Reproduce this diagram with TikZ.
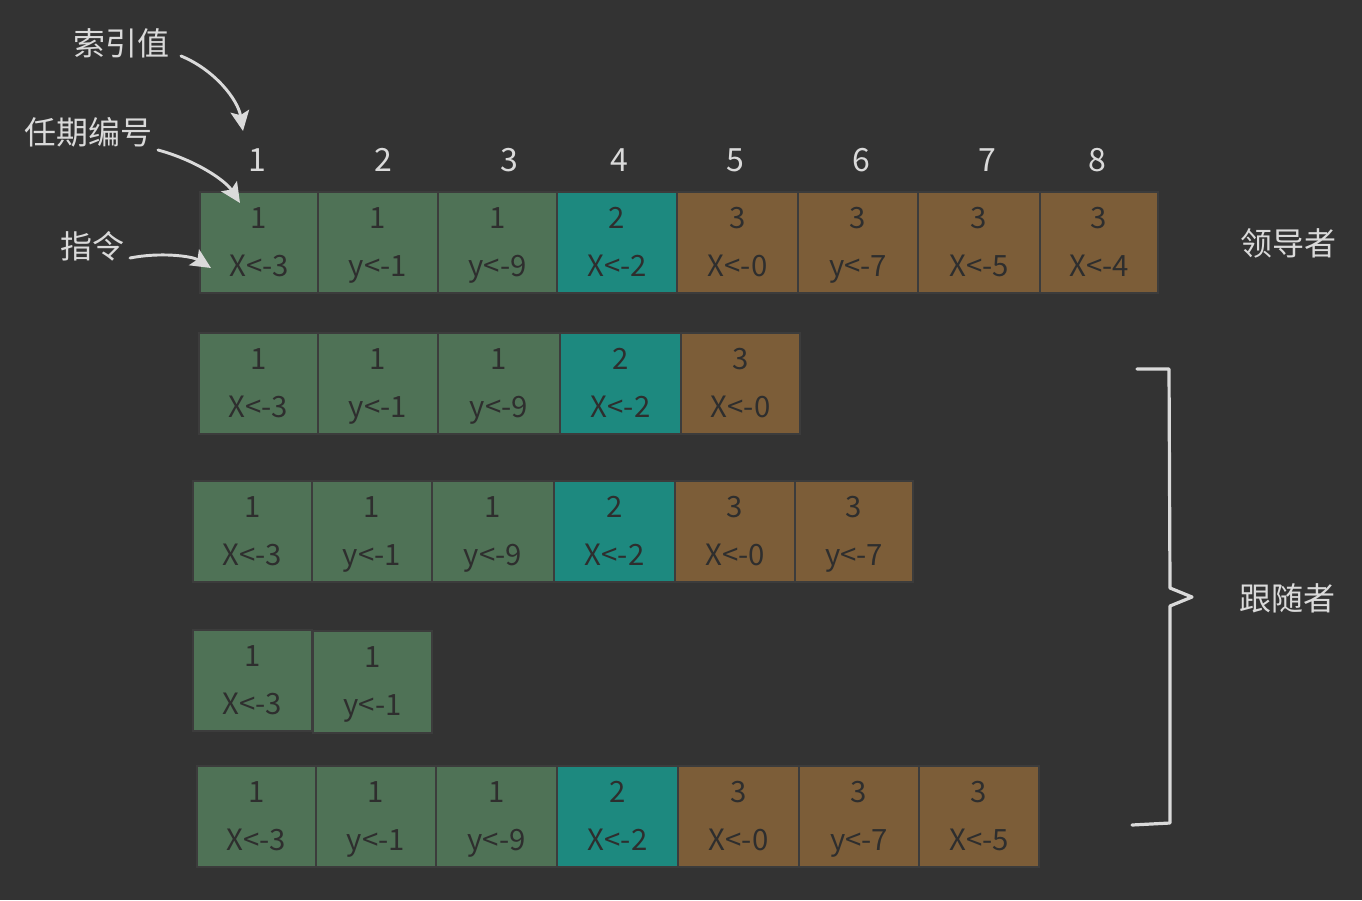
\documentclass[tikz,border=0pt]{standalone}
\usepackage{fontspec}
\setmainfont{Noto Sans CJK SC}
\usetikzlibrary{arrows.meta}
\definecolor{bg}{HTML}{333333}
\definecolor{gc}{HTML}{4F7256}
\definecolor{tc}{HTML}{1D897F}
\definecolor{bc}{HTML}{7C5D38}
\definecolor{edge}{HTML}{3C3C3C}
\definecolor{dark}{HTML}{2E2E2E}
\definecolor{light}{HTML}{DADADA}
\tikzset{
  cell/.style={draw=edge,line width=1.2pt,inner sep=0pt,align=center,text=dark,
    font=\fontsize{22}{36}\selectfont},
  idx/.style={text=light,font=\fontsize{24}{28}\selectfont},
  lab/.style={text=light,font=\fontsize{24}{28}\selectfont},
  arr/.style={draw=light,line width=2.2pt,line cap=round,-{Stealth[length=15pt,width=14pt,inset=3pt]}},
  brk/.style={draw=light,line width=2.4pt,line cap=round,line join=round}
}
\newcommand\mycell[7]{%
  \node[cell,fill=#6,minimum width={(#4-#2)*0.75pt},minimum height={(#5-#3)*0.75pt}]
    (#1) at ({(#2+#4)/2},{(#3+#5)/2}) {#7};}
\begin{document}
\begin{tikzpicture}[x=0.75pt,y=-0.75pt]
\fill[bg] (0,0) rectangle (1362,900);
\useasboundingbox (0,0) rectangle (1362,900);
% leader
\foreach \i/\xa/\xb/\c/\t/\s in {1/200/318/gc/1/X<-3,2/318/438/gc/1/y<-1,3/438/557/gc/1/y<-9,4/557/677/tc/2/X<-2,5/677/798/bc/3/X<-0,6/798/918/bc/3/y<-7,7/918/1040/bc/3/X<-5,8/1040/1158/bc/3/X<-4}
  {\mycell{a\i}{\xa}{192}{\xb}{293}{\c}{\strut\t\\\strut\s}}
% follower 1
\foreach \i/\xa/\xb/\c/\t/\s in {1/199/318/gc/1/X<-3,2/318/438/gc/1/y<-1,3/438/560/gc/1/y<-9,4/560/681/tc/2/X<-2,5/681/800/bc/3/X<-0}
  {\mycell{b\i}{\xa}{333}{\xb}{434}{\c}{\strut\t\\\strut\s}}
% follower 2
\foreach \i/\xa/\xb/\c/\t/\s in {1/193/312/gc/1/X<-3,2/312/432/gc/1/y<-1,3/432/554/gc/1/y<-9,4/554/675/tc/2/X<-2,5/675/795/bc/3/X<-0,6/795/913/bc/3/y<-7}
  {\mycell{c\i}{\xa}{481}{\xb}{582}{\c}{\strut\t\\\strut\s}}
% follower 3
\mycell{d1}{193}{630}{312}{731}{gc}{\strut1\\\strut X<-3}
\mycell{d2}{313}{631}{432}{733}{gc}{\strut1\\\strut y<-1}
% follower 4
\foreach \i/\xa/\xb/\c/\t/\s in {1/197/316/gc/1/X<-3,2/316/436/gc/1/y<-1,3/436/557/gc/1/y<-9,4/557/678/tc/2/X<-2,5/678/799/bc/3/X<-0,6/799/919/bc/3/y<-7,7/919/1039/bc/3/X<-5}
  {\mycell{e\i}{\xa}{766}{\xb}{867}{\c}{\strut\t\\\strut\s}}
% indices
\foreach \i/\x in {1/257,2/383,3/509,4/619,5/735,6/861,7/987,8/1097}
  {\node[idx] (n\i) at (\x,160) {\i};}
% labels
\node[lab] (l1) at (121,43) {索引值};
\node[lab] (l2) at (88,132) {任期编号};
\node[lab] (l3) at (92,246) {指令};
\node[lab] (lead) at (1288,243) {领导者};
\node[lab] (foll) at (1287,598) {跟随者};
% arrows
\coordinate (s1) at (181,56);
\coordinate (t1) at (243,131);
\coordinate (s2) at (158,150);
\coordinate (t2) at (240,203);
\coordinate (s3) at (130,258);
\coordinate (t3) at (211,268);
\draw[arr] (s1) .. controls (215,70) and (238,100) .. (t1);
\draw[arr] (s2) .. controls (195,160) and (225,180) .. (t2);
\draw[arr] (s3) .. controls (160,252) and (192,256) .. (t3);
% bracket
\coordinate (bt) at (1137,369);
\coordinate (bb) at (1132,825);
\draw[brk] (bt) -- (1169,369) -- (1170,588) -- (1192,597) -- (1170,606) -- (1170,823) -- (bb);
\end{tikzpicture}
\end{document}
